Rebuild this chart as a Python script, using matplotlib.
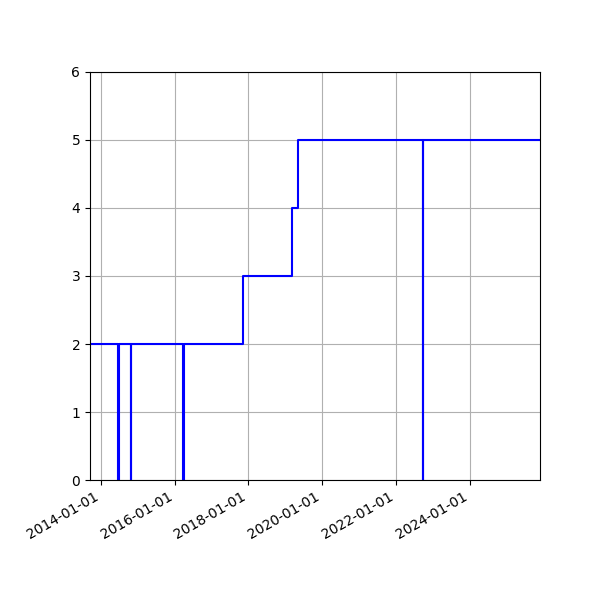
import numpy as np
import matplotlib
matplotlib.use("Agg")
import matplotlib.pyplot as plt
import matplotlib.dates as mdates
from datetime import datetime

# change points (step-post): value holds until the next date
dates = [
    "2013-09-17", "2014-06-22", "2014-06-29", "2014-10-23", "2014-10-29",
    "2016-03-26", "2016-03-31", "2017-11-12", "2019-03-05", "2019-05-09",
    "2022-09-27", "2022-09-28", "2025-11-25",
]
values = [2, 0, 2, 0, 2, 0, 2, 3, 4, 5, 0, 5, 5]

x = [datetime.strptime(d, "%Y-%m-%d") for d in dates]

fig = plt.figure(figsize=(6, 6), dpi=100)
ax = fig.add_axes([0.15, 0.2, 0.75, 0.68])
ax.step(x, values, where="post", color="blue")
ax.set_xlim(x[0], x[-1])
ax.set_ylim(0, 6)
ax.xaxis.set_major_locator(mdates.YearLocator(2))
ax.xaxis.set_major_formatter(mdates.DateFormatter("%Y-%m-%d"))
ax.grid(True)
for lbl in ax.get_xticklabels():
    lbl.set_rotation(30)
    lbl.set_ha("right")

fig.savefig("out.png")
